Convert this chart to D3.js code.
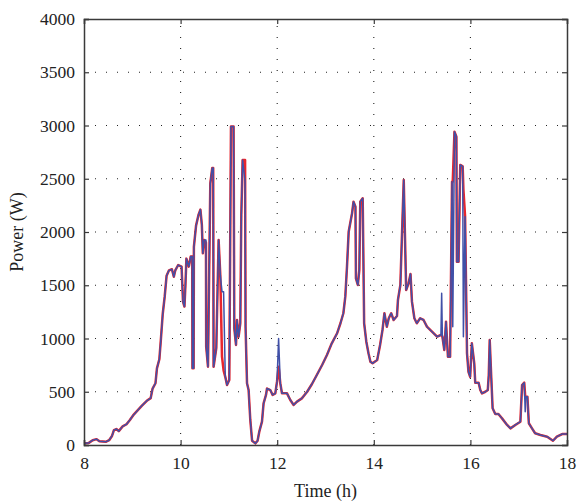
<!DOCTYPE html>
<html>
<head>
<meta charset="utf-8">
<script src="https://cdn.jsdelivr.net/npm/d3@7/dist/d3.min.js"></script>
<style>
  html, body { margin: 0; padding: 0; background: #fff; }
  svg text { font-family: "Liberation Serif", "DejaVu Serif", serif; fill: #222; }
</style>
</head>
<body>
<svg id="chart" width="580" height="503"></svg>
<script>
// ---- data ----
const xTicks = [8, 10, 12, 14, 16, 18];
const yTicks = [0, 500, 1000, 1500, 2000, 2500, 3000, 3500, 4000];
const xLabel = "Time (h)";
const yLabel = "Power (W)";

const timeHours = [
  8.00, 8.10, 8.18, 8.26, 8.32, 8.45, 8.52, 8.58, 8.62, 8.67,
  8.72, 8.80, 8.88, 8.95, 9.02, 9.10, 9.20, 9.30, 9.38, 9.42,
  9.48, 9.51, 9.56, 9.59, 9.63, 9.67, 9.71, 9.76, 9.82, 9.86,
  9.89, 9.95, 10.02, 10.05, 10.08, 10.10, 10.12, 10.17, 10.21, 10.24,
  10.245, 10.27, 10.275, 10.32, 10.37, 10.41, 10.44, 10.46, 10.49, 10.525,
  10.53, 10.567, 10.615, 10.655, 10.675, 10.683, 10.739, 10.787, 10.822, 10.857,
  10.89, 10.925, 10.961, 11.008, 11.043, 11.097, 11.112, 11.147, 11.168, 11.201,
  11.236, 11.257, 11.284, 11.335, 11.345, 11.375, 11.408, 11.443, 11.48, 11.547,
  11.594, 11.629, 11.685, 11.718, 11.768, 11.789, 11.857, 11.905, 11.961, 11.996,
  12.029, 12.064, 12.099, 12.203, 12.271, 12.34, 12.41, 12.51, 12.62, 12.72,
  12.82, 12.93, 13.03, 13.13, 13.24, 13.31, 13.37, 13.41, 13.445, 13.48,
  13.55, 13.58, 13.62, 13.63, 13.67, 13.70, 13.72, 13.77, 13.80, 13.845,
  13.89, 13.93, 13.975, 14.07, 14.13, 14.18, 14.22, 14.27, 14.31, 14.36,
  14.41, 14.48, 14.50, 14.55, 14.58, 14.62, 14.67, 14.72, 14.76, 14.79,
  14.84, 14.89, 14.96, 15.03, 15.10, 15.205, 15.31, 15.39, 15.405, 15.42,
  15.46, 15.495, 15.535, 15.58, 15.62, 15.635, 15.67, 15.71, 15.72, 15.755,
  15.79, 15.84, 15.855, 15.89, 15.93, 15.96, 15.995, 16.03, 16.08, 16.10,
  16.17, 16.205, 16.24, 16.31, 16.36, 16.38, 16.40, 16.43, 16.46, 16.515,
  16.58, 16.655, 16.76, 16.83, 16.93, 17.035, 17.07, 17.115, 17.135, 17.15,
  17.18, 17.21, 17.275, 17.34, 17.45, 17.59, 17.71, 17.79, 17.90, 18.00
];

const powerRed = [
  15, 20, 45, 55, 35, 30, 45, 85, 140, 150,
  130, 175, 195, 235, 280, 320, 370, 415, 440, 530,
  580, 720, 805, 980, 1230, 1390, 1590, 1640, 1650, 1580,
  1640, 1690, 1675, 1345, 1300, 1500, 1750, 1675, 1770, 1770,
  720, 720, 1860, 2060, 2160, 2210, 2066, 1800, 1925, 1900,
  923, 735, 2457, 2600, 2600, 735, 910, 1925, 1597, 830,
  700, 640, 563, 610, 2990, 2990, 1095, 940, 1173, 1017,
  1143, 2160, 2676, 2676, 1110, 580, 516, 235, 40, 15,
  40, 125, 220, 390, 470, 530, 516, 470, 485, 595,
  735, 580, 485, 485, 423, 376, 407, 438, 500, 573,
  657, 751, 845, 955, 1049, 1143, 1237, 1393, 1675, 2003,
  2176, 2285, 2238, 1565, 1503, 1643, 2285, 2317, 1143, 970,
  861, 782, 767, 798, 939, 1080, 1237, 1111, 1190, 1237,
  1174, 1211, 1362, 1503, 1925, 2488, 1455, 1518, 1606, 1346,
  1190, 1143, 1190, 1174, 1111, 1064, 1017, 1033, 1033, 1017,
  892, 1158, 829, 829, 2473, 2473, 2942, 2895, 1721, 1721,
  2630, 2616, 2400, 2144, 861, 688, 641, 955, 767, 585,
  585, 516, 485, 500, 516, 657, 986, 657, 345, 291,
  291, 250, 188, 156, 188, 219, 563, 585, 454, 454,
  454, 204, 156, 110, 94, 78, 40, 78, 103, 103
];

const powerBlue = [
  15, 20, 45, 55, 35, 30, 45, 85, 140, 150,
  130, 175, 195, 235, 280, 320, 370, 415, 440, 530,
  580, 720, 805, 980, 1230, 1390, 1590, 1640, 1650, 1580,
  1640, 1690, 1675, 1345, 1300, 1500, 1750, 1675, 1770, 1770,
  720, 720, 1860, 2060, 2160, 2210, 2066, 1800, 1925, 1925,
  923, 735, 2457, 2600, 2600, 735, 910, 1925, 1597, 1440,
  1440, 640, 563, 610, 2990, 2990, 1095, 940, 1173, 1017,
  1143, 2160, 2676, 2473, 1110, 580, 516, 235, 40, 15,
  40, 125, 220, 390, 470, 530, 516, 470, 485, 595,
  1000, 580, 485, 485, 423, 376, 407, 438, 500, 573,
  657, 751, 845, 955, 1049, 1143, 1237, 1393, 1675, 2003,
  2176, 2285, 2238, 1565, 1503, 1643, 2285, 2317, 1143, 970,
  861, 782, 767, 798, 939, 1080, 1237, 1111, 1190, 1237,
  1174, 1211, 1362, 1503, 1925, 2488, 1455, 1518, 1606, 1346,
  1190, 1143, 1190, 1174, 1111, 1064, 1017, 1033, 1424, 1017,
  892, 1158, 829, 829, 2473, 1111, 2942, 2895, 1721, 1721,
  2630, 2616, 1017, 2144, 861, 688, 641, 955, 767, 585,
  585, 516, 485, 500, 516, 657, 986, 657, 345, 291,
  291, 250, 188, 156, 188, 219, 563, 585, 313, 454,
  454, 204, 156, 110, 94, 78, 40, 78, 103, 103
];

// ---- layout ----
const svg = d3.select("#chart");
const L = 84, R = 567, T = 19, B = 445;

const x = d3.scaleLinear().domain([8, 18]).range([L, R]);
const y = d3.scaleLinear().domain([0, 4000]).range([B, T]);

// grid (dotted)
const grid = svg.append("g");
grid.selectAll("line.gx").data(xTicks.filter(t => t > 8 && t < 18)).join("line")
  .attr("x1", d => x(d)).attr("x2", d => x(d)).attr("y1", B).attr("y2", T)
  .attr("stroke", "#222").attr("stroke-width", 1.1).attr("stroke-dasharray", "1,10");
grid.selectAll("line.gy").data(yTicks.filter(t => t > 0 && t < 4000)).join("line")
  .attr("x1", L).attr("x2", R).attr("y1", d => y(d)).attr("y2", d => y(d))
  .attr("stroke", "#222").attr("stroke-width", 1.1).attr("stroke-dasharray", "1,10");

// lines
const idx = d3.range(timeHours.length);
const lineRed = d3.line().x(i => x(timeHours[i])).y(i => y(powerRed[i]));
const lineBlue = d3.line().x(i => x(timeHours[i])).y(i => y(powerBlue[i]));

svg.append("path").attr("d", lineRed(idx))
  .attr("fill", "none").attr("stroke", "#e8262d").attr("stroke-width", 2.5)
  .attr("stroke-linejoin", "round");
svg.append("path").attr("d", lineBlue(idx))
  .attr("fill", "none").attr("stroke", "#4050a8").attr("stroke-width", 1.5)
  .attr("stroke-linejoin", "round");

// axes (ticks inward)
const fmt = d3.format("d");
const axB = svg.append("g").attr("transform", `translate(0,${B})`)
  .call(d3.axisBottom(x).tickValues(xTicks).tickSize(-5).tickPadding(12).tickFormat(fmt));
const axL = svg.append("g").attr("transform", `translate(${L},0)`)
  .call(d3.axisLeft(y).tickValues(yTicks).tickSize(-5).tickPadding(9).tickFormat(fmt));
const axT = svg.append("g").attr("transform", `translate(0,${T})`)
  .call(d3.axisTop(x).tickValues(xTicks).tickSize(-5).tickFormat(""));
const axR = svg.append("g").attr("transform", `translate(${R},0)`)
  .call(d3.axisRight(y).tickValues(yTicks).tickSize(-5).tickFormat(""));

[axB, axL, axT, axR].forEach(g => {
  g.select(".domain").attr("stroke", "#3a3a3a").attr("stroke-width", 1.5);
  g.selectAll(".tick line").attr("stroke", "#3a3a3a").attr("stroke-width", 1.2);
  g.selectAll(".tick text")
    .attr("font-family", "Liberation Serif, DejaVu Serif, serif")
    .attr("font-size", 17.5).attr("fill", "#222");
});

// axis titles
svg.append("text").attr("x", (L + R) / 2).attr("y", 497)
  .attr("text-anchor", "middle").attr("font-size", 18).text(xLabel);
svg.append("text").attr("transform", `translate(23,${(T + B) / 2}) rotate(-90)`)
  .attr("text-anchor", "middle").attr("font-size", 18).text(yLabel);
</script>
</body>
</html>
